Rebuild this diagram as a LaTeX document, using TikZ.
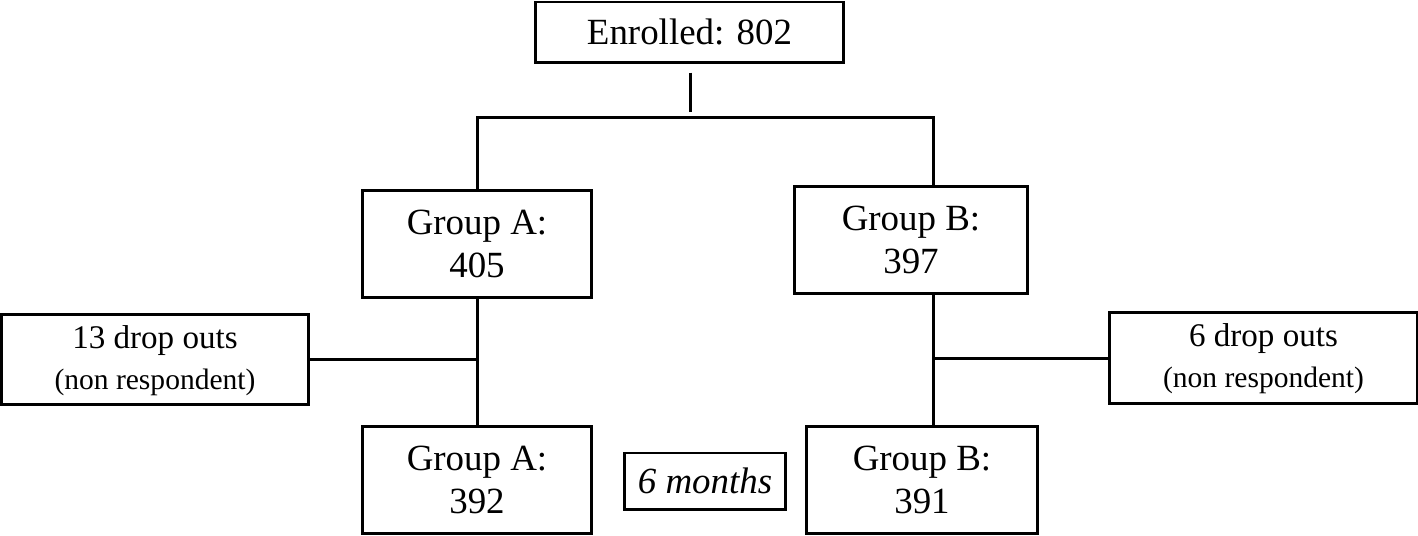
\documentclass[tikz,border=0pt]{standalone}
\usepackage{fontspec}
\setmainfont{Liberation Serif}
\usepackage{tikz}

\begin{document}
\begin{tikzpicture}[x=0.01cm, y=-0.01cm,
    box/.style={draw, line width=0.85pt, inner sep=0pt, align=center,
                font=\fontsize{10.5}{12.2}\selectfont},
    dropbox/.style={box, minimum width=3.07cm, minimum height=0.9cm}]
    \useasboundingbox (0,0) rectangle (1418,535);
    \node[box, minimum width=3.07cm, minimum height=0.6cm] (enrolled) at (689.5,32) {Enrolled: 802};
    \node[box, minimum width=2.29cm, minimum height=1.06cm] (groupA) at (477,244) {Group A:\\405};
    \node[box, minimum width=2.32cm, minimum height=1.06cm] (groupB) at (911,240) {Group B:\\397};
    \node[dropbox] (dropA) at (155,359.5)
      {\fontsize{9.4}{10}\selectfont \strut13 drop outs\\[-0.5pt]\fontsize{8.4}{10}\selectfont (non respondent)};
    \node[dropbox] (dropB) at (1263.5,358)
      {\fontsize{9.4}{10}\selectfont \strut6 drop outs\\[-0.5pt]\fontsize{8.4}{10}\selectfont (non respondent)};
    \node[box, minimum width=2.28cm, minimum height=1.06cm] (groupA2) at (477,480) {Group A:\\392};
    \node[box, minimum width=2.30cm, minimum height=1.06cm] (groupB2) at (922,480) {Group B:\\391};
    \node[box, minimum width=1.6cm, minimum height=0.56cm] (months) at (705,481) {\itshape 6 months};
    \coordinate (forkA) at (477,117);
    \coordinate (forkB) at (933,117);
    \coordinate (top) at (690,117);
    \draw[line width=0.85pt, shorten <=2.6pt, shorten >=1.4pt] (enrolled.south -| top) -- (top);
    \draw[line width=0.85pt] (groupA.north) -- (forkA) -- (forkB) -- (forkB |- groupB.north);
    \draw[line width=0.85pt] (groupA.south) -- (groupA2.north);
    \draw[line width=0.85pt] (dropA.east) -- (dropA.east -| groupA.south);
    \draw[line width=0.85pt] (groupB.south -| forkB) -- (groupB2.north -| forkB);
    \draw[line width=0.85pt] (dropB.west) -- (dropB.west -| forkB);
\end{tikzpicture}
\end{document}
